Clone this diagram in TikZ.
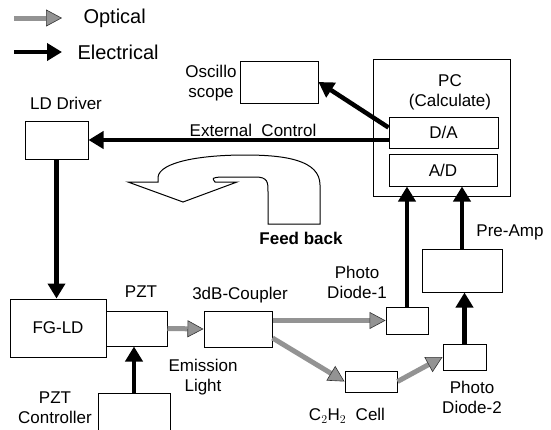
\documentclass[tikz,border=0pt]{standalone}
\usepackage{fontspec}
\setmainfont{Liberation Sans}
\usetikzlibrary{arrows.meta}

\begin{document}
\begin{tikzpicture}[x=1pt,y=-1pt,font=\fontsize{17}{20}\selectfont,
    box/.style={draw,line width=1pt,inner sep=0pt},
    elec/.style={line width=4.5pt,-{Triangle[length=15pt,width=17pt]}},
    opt/.style={line width=5pt,draw=gray!85,
      -{Triangle[length=16pt,width=17pt,fill=gray!85,color=gray!40!black,line width=0.6pt]}}]
  \useasboundingbox (0,0) rectangle (551,429);
  \clip (0,0) rectangle (551,429);
  % legend
  \coordinate (optA) at (14,18);
  \coordinate (optB) at (62,18);
  \coordinate (elA) at (14,52);
  \coordinate (elB) at (62,52);
  \draw[opt] (optA) -- (optB);
  \draw[elec] (elA) -- (elB);
  \node[font=\fontsize{20}{22}\selectfont,anchor=west] (optlbl) at (80,18) {Optical};
  \node[font=\fontsize{20}{22}\selectfont,anchor=west] (ellbl) at (74,52) {Electrical};

  % boxes
  \node[box,minimum width=63,minimum height=38] (lddrv) at (56.5,140) {};
  \node[box,minimum width=78,minimum height=42] (osc) at (279,82) {};
  \node[box,minimum width=137,minimum height=137] (pc) at (441.5,127.5) {};
  \node[box,minimum width=109,minimum height=31] (da) at (443.5,132.5) {D/A};
  \node[box,minimum width=108,minimum height=32] (ad) at (443,170) {A/D};
  \node[box,minimum width=96,minimum height=58] (fgld) at (58,328) {FG-LD};
  \node[box,minimum width=61,minimum height=35] (pzt) at (136.5,328.5) {};
  \node[box,minimum width=72,minimum height=48] (pztc) at (134,417) {};
  \node[box,minimum width=68,minimum height=36] (coupler) at (238,329) {};
  \node[box,minimum width=42,minimum height=27] (pd1) at (407,320.5) {};
  \node[box,minimum width=80,minimum height=43] (preamp) at (462,270.5) {};
  \node[box,minimum width=43,minimum height=26] (pd2) at (464.5,357) {};
  \node[box,minimum width=52,minimum height=21] (cell) at (371,381.5) {};

  % labels
  \node (lddrvlbl) at (66,103) {LD Driver};
  \node[align=center] (osclbl) at (211,83) {Oscillo\\scope};
  \node (extlbl) at (253,130) {External\ \ Control};
  \node[align=center] (pclbl) at (450,92.5) {PC\\(Calculate)};
  \node[font=\fontsize{17}{20}\selectfont\bfseries] (fblbl) at (301,238) {Feed back};
  \node (pztlbl) at (141,292) {PZT};
  \node (couplerlbl) at (240,295) {3dB-Coupler};
  \node[align=center] (emlbl) at (203,377) {Emission\\Light};
  \node[align=center] (pztclbl) at (55,408) {PZT\\Controller};
  \node[align=center] (pd1lbl) at (357,282) {Photo\\Diode-1};
  \node (preamplbl) at (510,232) {Pre-Amp};
  \node (celllbl) at (347,416) {C$_2$H$_2$\ \ Cell};
  \node[align=center] (pd2lbl) at (472,397) {Photo\\Diode-2};

  % electrical
  \draw[elec] (lddrv.east -| da.west) -- (lddrv.east);
  \draw[elec] ([yshift=-11pt]da.north west) -- (osc.east);
  \draw[elec] (lddrv.south) -- (lddrv.south |- fgld.north);
  \draw[elec] (pztc.north) -- (pztc.north |- pzt.south);
  \draw[elec] (pd1.north) -- (pd1.north |- ad.south);
  \draw[elec] (preamp.north) -- (preamp.north |- ad.south);
  \draw[elec] (pd2.north) -- (pd2.north |- preamp.south);

  % optical
  \draw[opt] (pzt.east) -- (coupler.west);
  \draw[opt] (coupler.east |- pd1.west) -- (pd1.west);
  \draw[opt] ([yshift=-9pt]coupler.east) -- (cell.west);
  \draw[opt] (cell.east) -- (pd2.west);

  % feed back arrow
  \draw[line width=1pt,fill=white] (128,182) -- (183,202) -- (237,182) -- (215,182)
    .. controls (212,178) .. (220,177) -- (255,177)
    .. controls (268,177) and (268,182) .. (268,192) -- (268,224) -- (320,224) -- (320,185)
    .. controls (320,160) and (285,155) .. (245,155)
    .. controls (200,155) and (160,162) .. (158,177) -- (158,182) -- cycle;
\end{tikzpicture}
\end{document}
